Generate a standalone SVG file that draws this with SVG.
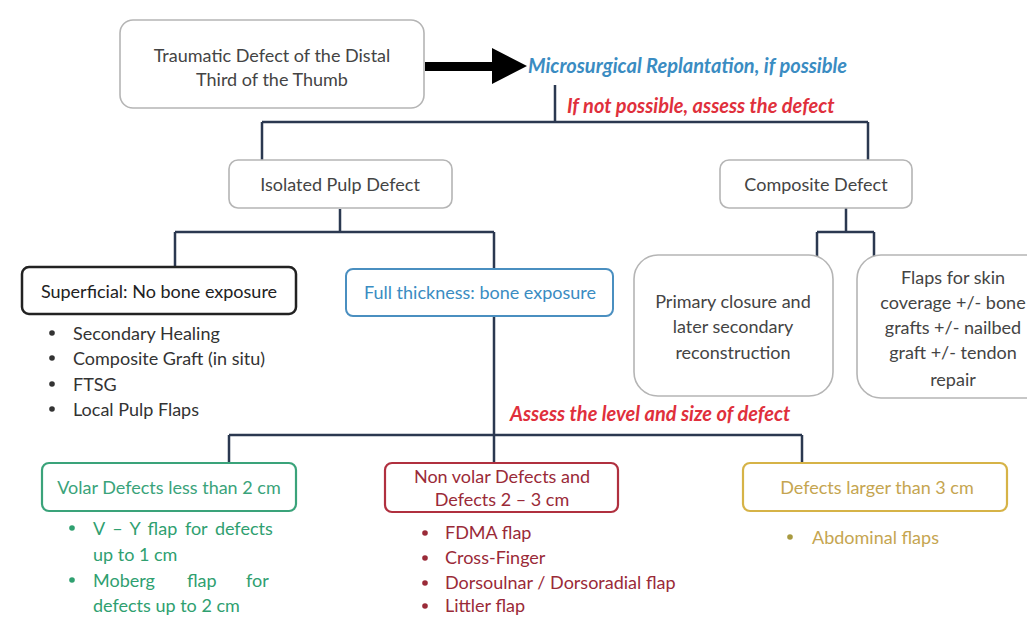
<svg xmlns="http://www.w3.org/2000/svg" width="1027" height="617" viewBox="0 0 1027 617">
<style>
text{font-family:Lato,"Open Sans","Liberation Sans",sans-serif;font-size:18px;}
.c{text-anchor:middle;}
.gray{fill:#fff;stroke:#b5b5b5;stroke-width:1.6;}
.dk{fill:#444;}
.conn{fill:none;stroke:#2b3850;stroke-width:2.5;}
.note{font-weight:bold;font-style:italic;font-size:20px;}
</style>
<rect width="1027" height="617" fill="#fff"/>
<g id="connectors">
<path class="conn" d="M555 85V122M262 122H868M262 122V162M868 122V160"/>
<path class="conn" d="M340 209V232M175 232H494M175 232V267M494 232V269"/>
<path class="conn" d="M846 208V232M817 232H874M817 232V257M874 232V257"/>
<path class="conn" d="M494 316V463M229 435H802M229 435V463M802 435V463"/>
<path d="M425 62H492V48L527 66L492 84V71H425Z" fill="#000"/>
</g>
<g id="top">
<rect class="gray" x="120" y="20" width="304" height="88" rx="13"/>
<text class="c dk" x="272" y="62">Traumatic Defect of the Distal</text>
<text class="c dk" x="272" y="86">Third of the Thumb</text>
</g>
<g id="replant"><text class="note" x="528" y="73" fill="#3a8cc2">Microsurgical Replantation, if possible</text></g>
<g id="assess1"><text class="note" x="567" y="113" fill="#e0303c">If not possible, assess the defect</text></g>
<g id="pulp">
<rect class="gray" x="229" y="160" width="223" height="48" rx="9"/>
<text class="c dk" x="340" y="191">Isolated Pulp Defect</text>
</g>
<g id="composite">
<rect class="gray" x="720" y="160" width="192" height="48" rx="9"/>
<text class="c dk" x="816" y="191">Composite Defect</text>
</g>
<g id="superficial">
<rect x="22" y="267" width="274" height="47" rx="7" fill="#fff" stroke="#222" stroke-width="2.5"/>
<text class="c" x="159" y="298" fill="#222">Superficial: No bone exposure</text>
<g fill="#333">
<circle cx="52" cy="333" r="2.8"/><circle cx="52" cy="358" r="2.8"/><circle cx="52" cy="384" r="2.8"/><circle cx="52" cy="409" r="2.8"/>
<text x="73" y="340">Secondary Healing</text>
<text x="73" y="365">Composite Graft (in situ)</text>
<text x="73" y="391">FTSG</text>
<text x="73" y="416">Local Pulp Flaps</text>
</g>
</g>
<g id="full">
<rect x="346" y="269" width="267" height="47" rx="7" fill="#fff" stroke="#4a8fc0" stroke-width="2"/>
<text class="c" x="480" y="299" fill="#3a8cc2">Full thickness: bone exposure</text>
</g>
<g id="assess2"><text class="note" x="510" y="421" fill="#e0303c">Assess the level and size of defect</text></g>
<g id="primary">
<rect class="gray" x="634" y="255" width="199" height="141" rx="24"/>
<text class="c dk" x="733" y="308">Primary closure and</text>
<text class="c dk" x="733" y="333">later secondary</text>
<text class="c dk" x="733" y="359">reconstruction</text>
</g>
<g id="flaps">
<rect class="gray" x="857" y="255" width="200" height="143" rx="24"/>
<text class="c dk" x="953" y="284">Flaps for skin</text>
<text class="c dk" x="953" y="309">coverage +/- bone</text>
<text class="c dk" x="953" y="334">grafts +/- nailbed</text>
<text class="c dk" x="953" y="359">graft +/- tendon</text>
<text class="c dk" x="953" y="386">repair</text>
</g>
<g id="volar">
<rect x="42" y="463" width="254" height="48" rx="7" fill="#fff" stroke="#3aa37a" stroke-width="2.2"/>
<text class="c" x="169" y="494" fill="#3aa37a">Volar Defects less than 2 cm</text>
<g fill="#2fa070">
<circle cx="72" cy="528" r="2.8"/><circle cx="72" cy="580" r="2.8"/>
<text x="93" y="535" word-spacing="3">V – Y flap for defects</text>
<text x="93" y="561">up to 1 cm</text>
<text y="587"><tspan x="93">Moberg</tspan><tspan x="187">flap</tspan><tspan x="246">for</tspan></text>
<text x="93" y="612">defects up to 2 cm</text>
</g>
</g>
<g id="nonvolar">
<rect x="385" y="463" width="233" height="49" rx="7" fill="#fff" stroke="#b0303f" stroke-width="2.2"/>
<text class="c" x="502" y="483" fill="#9a2a38">Non volar Defects and</text>
<text class="c" x="502" y="506" fill="#9a2a38">Defects  2 – 3 cm</text>
<g fill="#9a2a38">
<circle cx="425" cy="533" r="2.8"/><circle cx="425" cy="558" r="2.8"/><circle cx="425" cy="583" r="2.8"/><circle cx="425" cy="606" r="2.8"/>
<text x="445" y="539">FDMA flap</text>
<text x="445" y="564">Cross-Finger</text>
<text x="445" y="589">Dorsoulnar / Dorsoradial flap</text>
<text x="445" y="612">Littler flap</text>
</g>
</g>
<g id="larger">
<rect x="743" y="463" width="264" height="48" rx="7" fill="#fff" stroke="#d6b347" stroke-width="2.2"/>
<text class="c" x="877" y="494" fill="#c5a550">Defects larger than 3 cm</text>
<circle cx="790" cy="537" r="2.8" fill="#a89a40"/>
<text x="812" y="544" fill="#c5a550">Abdominal flaps</text>
</g>
</svg>
